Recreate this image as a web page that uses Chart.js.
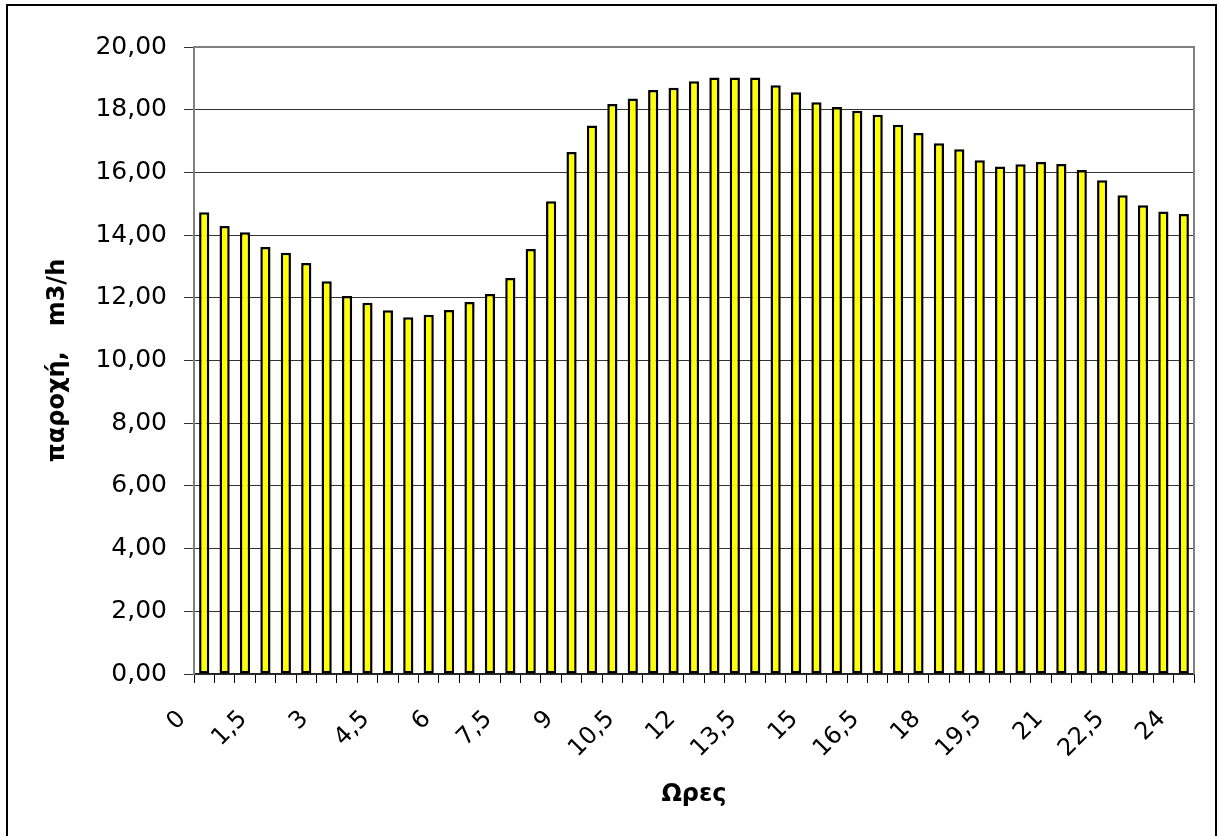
<!DOCTYPE html>
<html>
<head>
<meta charset="utf-8">
<script src="https://cdn.jsdelivr.net/npm/chart.js@4.4.1/dist/chart.umd.min.js"></script>
<style>
  html, body { margin: 0; padding: 0; background: #ffffff; }
  #wrap { position: relative; width: 1218px; height: 836px; }
</style>
</head>
<body>
<div id="wrap"><canvas id="c" width="1218" height="836"></canvas></div>
<script>
// Categories: hours (every half hour)
const hours = ['0','0,5','1','1,5','2','2,5','3','3,5','4','4,5','5','5,5','6','6,5','7','7,5',
  '8','8,5','9','9,5','10','10,5','11','11,5','12','12,5','13','13,5','14','14,5','15','15,5',
  '16','16,5','17','17,5','18','18,5','19','19,5','20','20,5','21','21,5','22','22,5','23','23,5','24'];

// Flow values (m3/h)
const flow = [14.73, 14.29, 14.09, 13.62, 13.44, 13.11, 12.53, 12.06, 11.84, 11.60, 11.38, 11.46,
  11.61, 11.87, 12.12, 12.63, 13.56, 15.08, 16.65, 17.50, 18.18, 18.36, 18.63, 18.70, 18.91,
  19.03, 19.03, 19.03, 18.78, 18.56, 18.24, 18.09, 17.97, 17.84, 17.52, 17.26, 16.93, 16.74,
  16.39, 16.19, 16.26, 16.33, 16.27, 16.08, 15.75, 15.27, 14.95, 14.75, 14.67];

// Y axis range / tick step
const yMin = 0;
const yMax = 20;
const yStep = 2;
// Only every third hour label is shown
const labelEvery = 3;

const yTitle = 'παροχή,   m3/h';
const xTitle = 'Ωρες';

const framePlugin = {
  id: 'frame',
  beforeDraw(chart) {
    const ctx = chart.ctx;
    ctx.save();
    ctx.fillStyle = '#ffffff';
    ctx.fillRect(0, 0, chart.width, chart.height);
    ctx.strokeStyle = '#000000';
    ctx.lineWidth = 2;
    ctx.strokeRect(7, 5, 1209, 900);
    ctx.restore();
  },
  afterDraw(chart) {
    const a = chart.chartArea;
    const ctx = chart.ctx;
    ctx.save();
    ctx.strokeStyle = '#808080';
    ctx.lineWidth = 2;
    ctx.beginPath();
    ctx.moveTo(a.left, a.top);
    ctx.lineTo(a.right, a.top);
    ctx.lineTo(a.right, a.bottom);
    ctx.stroke();
    ctx.restore();
  }
};

new Chart(document.getElementById('c'), {
  type: 'bar',
  data: {
    labels: hours,
    datasets: [{
      data: flow,
      backgroundColor: '#FFFF00',
      borderColor: '#000000',
      borderWidth: 2.5,
      borderSkipped: false,
      barPercentage: 0.5,
      categoryPercentage: 1.0
    }]
  },
  options: {
    responsive: false,
    devicePixelRatio: 1,
    animation: false,
    layout: { padding: { left: 0, right: 24, top: 47, bottom: 0 } },
    plugins: {
      legend: { display: false },
      tooltip: { enabled: false }
    },
    scales: {
      x: {
        grid: {
          display: true,
          offset: true,
          drawOnChartArea: false,
          drawTicks: true,
          tickLength: 9,
          color: '#000000',
          lineWidth: 1
        },
        border: { display: true, color: '#222222', width: 1.5 },
        ticks: {
          autoSkip: false,
          maxRotation: 45,
          minRotation: 45,
          labelOffset: -22,
          padding: 22,
          color: '#000000',
          font: { family: 'DejaVu Sans', size: 24 },
          callback: (v, i) => (i % labelEvery === 0 ? hours[i] : '')
        },
        title: {
          display: true,
          text: xTitle,
          color: '#000000',
          font: { family: 'DejaVu Sans', size: 24, weight: 'bold' },
          padding: { top: 0, bottom: 27 }
        },
        afterFit(scale) {
          scale.height = 162;
          scale.paddingLeft = 0;
          scale.paddingRight = 0;
        }
      },
      y: {
        min: yMin,
        max: yMax,
        grid: {
          color: '#333333',
          lineWidth: 1,
          drawTicks: true,
          tickLength: 10,
          tickColor: '#333333'
        },
        border: { display: true, color: '#808080', width: 2 },
        ticks: {
          stepSize: yStep,
          padding: 17,
          color: '#000000',
          font: { family: 'DejaVu Sans', size: 25 },
          callback: (v) => Number(v).toFixed(2).replace('.', ',')
        },
        title: {
          display: true,
          text: yTitle,
          color: '#000000',
          font: { family: 'DejaVu Sans', size: 24, weight: 'bold' },
          padding: { top: 43, bottom: 0 }
        },
        afterFit(scale) {
          scale.width = 194;
          scale.paddingTop = 0;
          scale.paddingBottom = 0;
        }
      }
    }
  },
  plugins: [framePlugin]
});
</script>
</body>
</html>
